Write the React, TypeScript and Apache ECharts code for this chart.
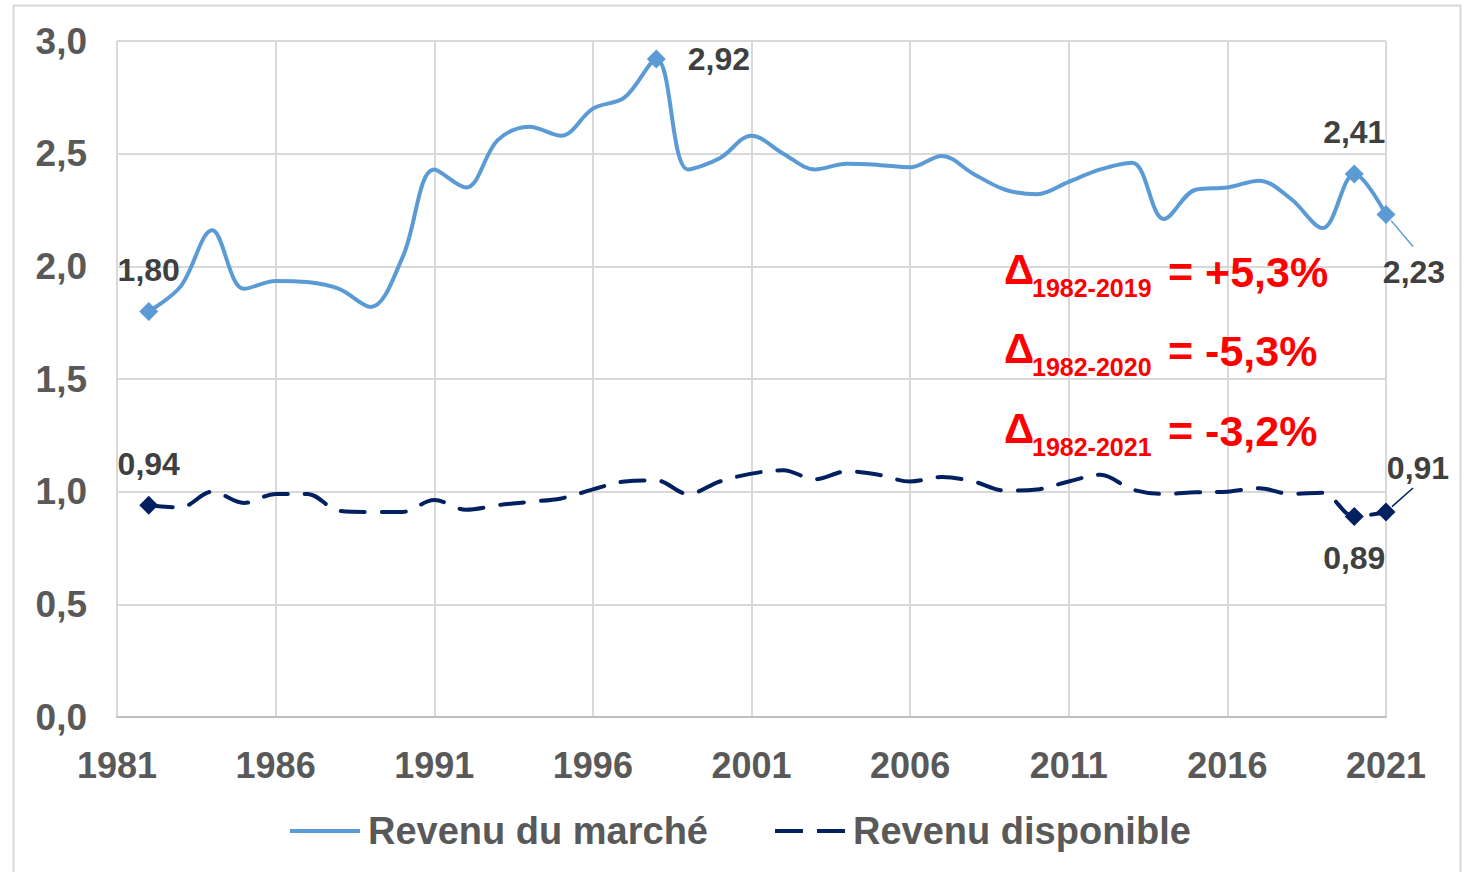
import React, { useEffect, useRef } from "react";
import * as echarts from "echarts";

const years = [
  "1981", "1982", "1983", "1984", "1985", "1986", "1987", "1988", "1989", "1990",
  "1991", "1992", "1993", "1994", "1995", "1996", "1997", "1998", "1999", "2000",
  "2001", "2002", "2003", "2004", "2005", "2006", "2007", "2008", "2009", "2010",
  "2011", "2012", "2013", "2014", "2015", "2016", "2017", "2018", "2019", "2020",
  "2021",
];

const marketIncome = [
  null, 1.8, 1.91, 2.16, 1.9, 1.935, 1.93, 1.9, 1.82, 2.04,
  2.43, 2.35, 2.56, 2.62, 2.58, 2.7, 2.75, 2.92, 2.43, 2.48,
  2.58, 2.5, 2.43, 2.455, 2.45, 2.44, 2.49, 2.41, 2.34, 2.32,
  2.375, 2.43, 2.46, 2.21, 2.34, 2.35, 2.38, 2.3, 2.17, 2.41,
  2.23,
];

const disposableIncome = [
  null, 0.94, 0.93, 1.0, 0.95, 0.99, 0.99, 0.915, 0.91, 0.91,
  0.963, 0.92, 0.94, 0.955, 0.97, 1.01, 1.045, 1.05, 0.99, 1.045,
  1.08, 1.095, 1.055, 1.09, 1.075, 1.045, 1.065, 1.045, 1.005, 1.01,
  1.045, 1.075, 1.01, 0.99, 0.997, 1.0, 1.015, 0.99, 0.995, 0.89,
  0.91,
];

const seriesNames = ["Revenu du marché", "Revenu disponible"];
const seriesColors = ["#5b9bd5", "#002060"];

const deltaLines = [
  { sub: "1982-2019", rest: "= +5,3%" },
  { sub: "1982-2020", rest: "= -5,3%" },
  { sub: "1982-2021", rest: "= -3,2%" },
];

// marked points: index -> label placement
const marketMarks: Record<number, any> = {
  1: { position: "top", distance: 16 },
  17: { position: "right", distance: 22 },
  39: { position: "top", distance: 16 },
  40: { position: "inside", leader: [28, 57], line: [27, 32] },
};
const dispMarks: Record<number, any> = {
  1: { position: "top", distance: 16 },
  39: { position: "bottom", distance: 16 },
  40: { position: "inside", leader: [32, -44], line: [27, -24] },
};

const fmt = (v: number) => v.toFixed(2).replace(".", ",");
const FONT = "Liberation Sans, Arial, sans-serif";

function buildData(values: (number | null)[], marks: Record<number, any>, color: string) {
  return values.map((v, i) => {
    const m = marks[i];
    if (!m || v == null) return v;
    return {
      value: v,
      symbol: "diamond",
      symbolSize: 19,
      itemStyle: { color },
      label: {
        show: true,
        position: m.position,
        distance: m.distance ?? 5,
        formatter: (p: any) => fmt(p.value),
        color: "#404040",
        fontSize: 32,
        fontWeight: "bold",
        fontFamily: FONT,
      },
    };
  });
}

export default function App() {
  const ref = useRef<HTMLDivElement>(null);

  useEffect(() => {
    if (!ref.current) return;
    const chart = echarts.init(ref.current, undefined, { renderer: "svg" });
    const red = "#ff0000";
    const baseY = [290, 369, 449];
    const graphics: any[] = [
      {
        type: "rect",
        shape: { x: 13.5, y: 5.5, width: 1447, height: 900 },
        style: { fill: "none", stroke: "#d9d9d9", lineWidth: 2 },
        silent: true,
        z: -10,
      },
    ];
    deltaLines.forEach((d, i) => {
      const by = baseY[i];
      graphics.push(
        {
          type: "text",
          x: 1004,
          y: by,
          z: 10,
          style: { text: "Δ", fill: red, font: `bold 42px ${FONT}`, verticalAlign: "bottom" },
        },
        {
          type: "text",
          x: 1032,
          y: by + 10,
          z: 10,
          style: { text: d.sub, fill: red, font: `bold 25px ${FONT}`, verticalAlign: "bottom" },
        },
        {
          type: "text",
          x: 1168,
          y: by + 3,
          z: 10,
          style: { text: d.rest, fill: red, font: `bold 43px ${FONT}`, verticalAlign: "bottom" },
        }
      );
    });

    const leaderLayout = (marks: Record<number, any>) => (params: any) => {
      const m = marks[params.dataIndex];
      if (m && m.leader) return { dx: m.leader[0], dy: m.leader[1] };
      return {};
    };

    const option: any = {
      animation: false,
      backgroundColor: "#ffffff",
      grid: { left: 117, right: 84, top: 41, bottom: 155 },
      legend: {
        data: [
          { name: seriesNames[0], icon: "rect", itemStyle: { color: seriesColors[0] } },
          {
            name: seriesNames[1],
            icon: "path://M0,0H28V4H0Z M42,0H70V4H42Z",
            itemStyle: { color: seriesColors[1] },
          },
        ],
        left: 285,
        top: 807,
        itemWidth: 70,
        itemHeight: 4,
        itemGap: 67,
        textStyle: {
          fontSize: 38,
          fontWeight: "bold",
          color: "#595959",
          fontFamily: FONT,
          padding: [0, 0, 0, 3],
        },
      },
      xAxis: {
        type: "category",
        data: years,
        boundaryGap: false,
        axisTick: { show: false },
        axisLine: { show: true, lineStyle: { color: "#bfbfbf", width: 2 } },
        axisLabel: {
          interval: 4,
          margin: 30,
          fontSize: 36,
          fontWeight: "bold",
          color: "#595959",
          fontFamily: FONT,
        },
        splitLine: { show: true, interval: 4, lineStyle: { color: "#d9d9d9", width: 2 } },
      },
      yAxis: {
        type: "value",
        min: 0,
        max: 3,
        interval: 0.5,
        axisLine: { show: false },
        axisTick: { show: false },
        axisLabel: {
          margin: 30,
          fontSize: 37,
          fontWeight: "bold",
          color: "#595959",
          fontFamily: FONT,
          formatter: (v: number) => v.toFixed(1).replace(".", ","),
        },
        splitLine: { lineStyle: { color: "#d9d9d9", width: 2 } },
      },
      series: [
        {
          name: seriesNames[0],
          type: "line",
          smooth: 0.35,
          symbol: "none",
          showSymbol: true,
          color: seriesColors[0],
          lineStyle: { color: seriesColors[0], width: 4 },
          data: buildData(marketIncome, marketMarks, seriesColors[0]),
          labelLayout: leaderLayout(marketMarks),
          z: 3,
        },
        {
          name: seriesNames[1],
          type: "line",
          smooth: 0.35,
          symbol: "none",
          showSymbol: true,
          color: seriesColors[1],
          lineStyle: { color: seriesColors[1], width: 4, type: [24, 17], cap: "round" },
          data: buildData(disposableIncome, dispMarks, seriesColors[1]),
          labelLayout: leaderLayout(dispMarks),
          z: 3,
        },
      ],
      graphic: graphics,
    };
    chart.setOption(option);

    // leader lines from the marked points to their moved labels
    const leaders: any[] = [];
    const addLeaders = (seriesIndex: number, values: (number | null)[], marks: Record<number, any>) => {
      Object.keys(marks).forEach((k) => {
        const i = Number(k);
        const m = marks[i];
        if (!m.line || values[i] == null) return;
        const p = chart.convertToPixel({ seriesIndex }, [years[i], values[i] as number]) as number[];
        const len = Math.hypot(m.line[0], m.line[1]);
        const sx = p[0] + (m.line[0] / len) * 8;
        const sy = p[1] + (m.line[1] / len) * 8;
        leaders.push({
          type: "line",
          z: 5,
          silent: true,
          shape: { x1: sx, y1: sy, x2: p[0] + m.line[0], y2: p[1] + m.line[1] },
          style: { stroke: seriesColors[seriesIndex], lineWidth: 1.5 },
        });
      });
    };
    addLeaders(0, marketIncome, marketMarks);
    addLeaders(1, disposableIncome, dispMarks);
    chart.setOption({ graphic: [...graphics, ...leaders] });

    return () => chart.dispose();
  }, []);

  return (
    <div ref={ref} style={{ position: "fixed", left: 0, top: 0, width: 1470, height: 872 }} />
  );
}
